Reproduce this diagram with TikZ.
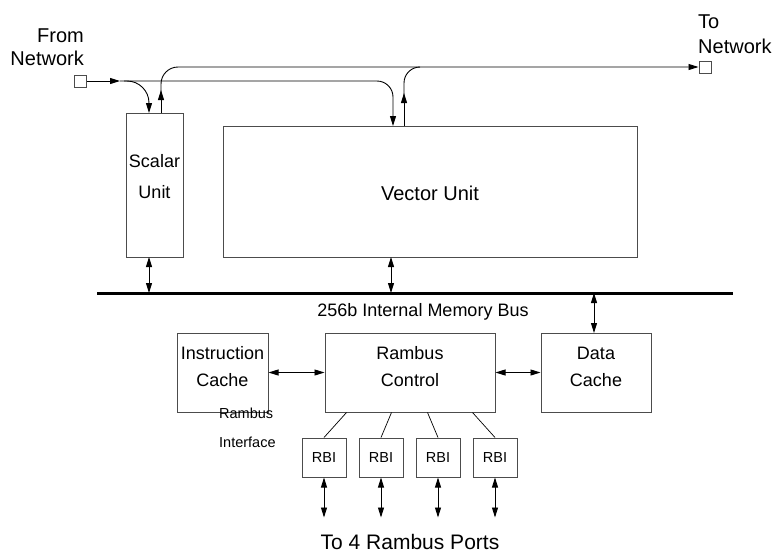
\documentclass[tikz,border=0pt]{standalone}
\usepackage{fontspec}
\setmainfont{Liberation Sans}
\usetikzlibrary{arrows.meta,calc}
\begin{document}
\begin{tikzpicture}[x=1pt,y=-1pt,
  box/.style={draw=black!70,line width=1pt,inner sep=0pt,fill=white},
  conn/.style={line width=0.9pt,draw=black},
  tip/.style={-{Triangle[length=10pt,width=6pt]}},
  dtip/.style={{Triangle[length=10pt,width=6pt]}-{Triangle[length=10pt,width=6pt]}},
  lab/.style={font=\fontsize{18}{27}\selectfont,align=center,inner sep=0pt},
  small/.style={font=\fontsize{14.5}{29}\selectfont,inner sep=0pt},
  port/.style={draw=black!70,line width=1pt,minimum width=12pt,minimum height=12pt,inner sep=0pt},
  bus/.style={line width=3pt,draw=black}
]
\useasboundingbox (0,0) rectangle (774,555);
% ports
\node[port] (insq) at (80.5,81) {};
\node[port] (outsq) at (705,67) {};
% boxes
\node[box,minimum width=57pt,minimum height=144pt] (su) at (154.5,185) {};
\node[box,minimum width=414pt,minimum height=131pt] (vu) at (430,191.5) {};
\node[box,minimum width=91pt,minimum height=79pt] (ic) at (222.5,372.5) {};
\node[box,minimum width=170pt,minimum height=79pt] (rc) at (410,372.5) {};
\node[box,minimum width=110pt,minimum height=79pt] (dc) at (596,372.5) {};
\foreach \i/\x in {1/324,2/381,3/438,4/495}{
  \node[box,minimum width=44pt,minimum height=39pt,font=\fontsize{14.5}{16}\selectfont] (rbi\i) at (\x,457.5) {RBI};
}
% bus
\coordinate (busL) at (97,293);
\coordinate (busR) at (733,293);
\draw[bus] (busL) -- (busR);
% labels
\node[lab,align=right,anchor=east,font=\fontsize{20}{23}\selectfont] (fromlab) at (84,47) {From\\Network};
\node[lab,align=left,anchor=west,font=\fontsize{20}{25}\selectfont] (tolab) at (698,34) {To\\Network};
\node[lab,font=\fontsize{18}{31}\selectfont] (sulab) at (su.center |- 0,177) {Scalar\\Unit};
\node[lab,font=\fontsize{20}{24}\selectfont] (vulab) at (vu.center |- 0,193) {Vector Unit};
\node[lab] (iclab) at (ic.center |- 0,367) {Instruction\\Cache};
\node[lab] (rclab) at (rc.center |- 0,367) {Rambus\\Control};
\node[lab] (dclab) at (dc.center |- 0,367) {Data\\Cache};
\node[lab] (buslab) at (423,312) {256b Internal Memory Bus};
\node[small,align=left,anchor=west] (rilab) at (219,428) {Rambus\\Interface};
\node[lab,anchor=base,font=\fontsize{21}{24}\selectfont] (portlab) at (410,549) {To 4 Rambus Ports};
% network input
\coordinate (inmid) at (120,81);
\coordinate (brS) at (124,81);
\draw[conn,tip] (insq.east) -- (inmid);
\draw[conn,tip,rounded corners=16pt] (inmid) -| (393,126);
\draw[conn,tip,rounded corners=22pt] (brS) -| (149,113);
% network output
\coordinate (suup) at (161,113);
\coordinate (vuup) at (404,126);
\draw[conn,tip] (suup) -- (161,90);
\draw[conn,tip,rounded corners=17pt] (161,92) |- (outsq.west);
\draw[conn,tip] (vuup) -- (404,93);
\draw[conn,rounded corners=16pt] (404,95) |- (420,67);
% bus connections
\draw[conn,dtip] (149,257) -- (149,293);
\draw[conn,dtip] (391,257) -- (391,293);
\draw[conn,dtip] (594,293) -- (594,333);
\draw[conn,dtip] (ic.east) -- (rc.west);
\draw[conn,dtip] (rc.east) -- (dc.west);
% rambus control to RBIs
\draw[conn,line width=0.7pt] ($(rc.south west)+(22,0)$) -- (rbi1.north);
\draw[conn,line width=0.7pt] ($(rc.south west)+(67,0)$) -- (rbi2.north);
\draw[conn,line width=0.7pt] ($(rc.south west)+(103,0)$) -- (rbi3.north);
\draw[conn,line width=0.7pt] ($(rc.south west)+(148,0)$) -- (rbi4.north);
\foreach \i in {1,2,3,4}{
  \coordinate (pe\i) at ($(rbi\i.south)+(0,40)$);
  \draw[conn,dtip] (rbi\i.south) -- (pe\i);
}
\end{tikzpicture}
\end{document}
